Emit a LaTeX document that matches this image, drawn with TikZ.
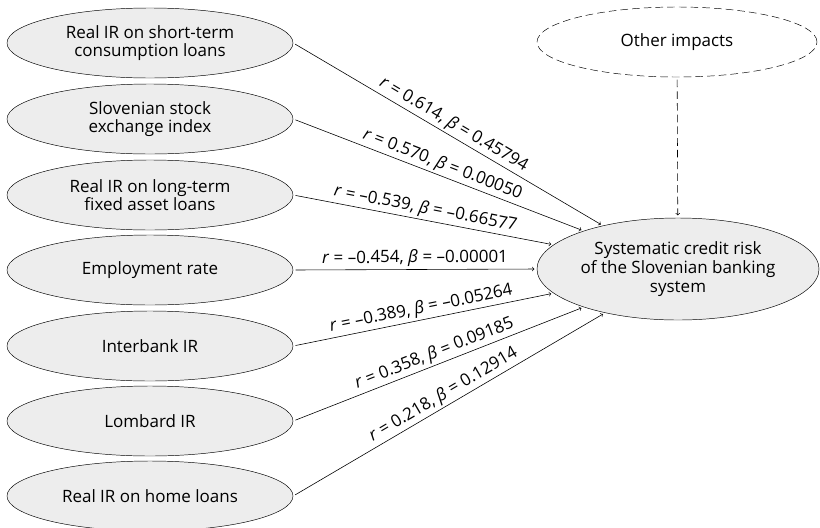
\documentclass[tikz,border=0pt]{standalone}
\usepackage{fontspec}
\setmainfont{Open Sans}
\usetikzlibrary{shapes.geometric}

\tikzset{
	factor/.style={ellipse, draw, fill=gray!14, minimum width=8.58cm, minimum height=2.1cm, align=center, inner sep=0pt},
	riskbox/.style={ellipse, draw, fill=gray!14, minimum width=8.46cm, minimum height=3.06cm, align=center, inner sep=0pt},
	otherbox/.style={ellipse, draw, dashed, dash pattern=on 6.5pt off 3.5pt, minimum width=8.4cm, minimum height=2.1cm, align=center, inner sep=0pt},
	coef/.style={sloped, above, pos=0.5, inner sep=2pt},
	link/.style={->, >=to, line width=0.5pt, shorten <=2pt, shorten >=2pt}
}

\begin{document}
\begin{tikzpicture}[x=0.03cm, y=-0.03cm, font=\fontsize{14.5}{16}\selectfont]
	
	\useasboundingbox (0,0) rectangle (820,527);
	
	\node[factor] (a1) at (150,43) {Real IR on short-term\\consumption loans};
	
	\node[factor] (a2) at (150,119) {Slovenian stock\\exchange index};
	
	\node[factor] (a3) at (150,195) {Real IR on long-term\\fixed asset loans};
	
	\node[factor] (a4) at (150,270) {Employment rate};
	
	\node[factor] (a5) at (150,346) {Interbank IR};
	
	\node[factor] (a6) at (150,421) {Lombard IR};
	
	\node[factor] (a7) at (150,496) {Real IR on home loans};
	
	\node[riskbox] (risk) at (678,269) {Systematic credit risk\\of the Slovenian banking\\system};
	
	\node[otherbox] (other) at (677,42) {Other impacts};
	
	\draw[link] (a1.east) -- node[coef] {\textit{r} = 0.614, \textit{β} = 0.45794} (risk.150);
	\draw[link] (a2.east) -- node[coef] {\textit{r} = 0.570, \textit{β} = 0.00050} (risk.158);
	\draw[link] (a3.east) -- node[coef] {\textit{r} = –0.539, \textit{β} = –0.66577} (risk.169);
	\draw[link] (a4.east) -- node[coef] {\textit{r} = –0.454, \textit{β} = –0.00001} (risk.180);
	\draw[link] (a5.east) -- node[coef] {\textit{r} = –0.389, \textit{β} = –0.05264} (risk.191);
	\draw[link] (a6.east) -- node[coef] {\textit{r} = 0.358, \textit{β} = 0.09185} (risk.202);
	\draw[link] (a7.east) -- node[coef] {\textit{r} = 0.218, \textit{β} = 0.12914} (risk.211);
	\draw[link, dashed, dash pattern=on 6.5pt off 3.5pt] (other) -- (risk);
	
\end{tikzpicture}
\end{document}
